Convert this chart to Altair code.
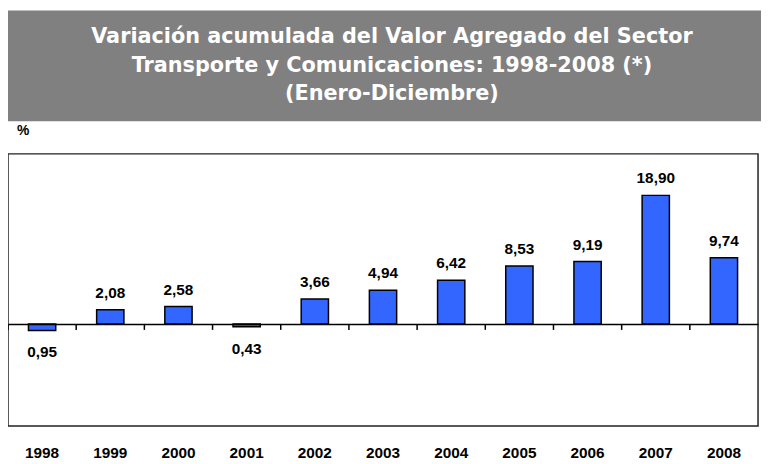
import altair as alt
import pandas as pd

years = ['1998', '1999', '2000', '2001', '2002', '2003', '2004', '2005', '2006', '2007', '2008']
values = [-0.95, 2.08, 2.58, -0.43, 3.66, 4.94, 6.42, 8.53, 9.19, 18.90, 9.74]
title_lines = ["Variación acumulada del Valor Agregado del Sector",
               "Transporte y Comunicaciones: 1998-2008 (*)",
               "(Enero-Diciembre)"]
unit_label = "%"

df = pd.DataFrame({"year": years, "value": values})
df["label"] = [f"{abs(v):.2f}".replace(".", ",") for v in values]

W, H = 758, 275
YMIN, YMAX = -15, 25
PAD_IN, PAD_OUT = 0.6, 0.3
zero_off = H * (0 - YMIN) / (YMAX - YMIN)  # distance of zero line from bottom
zero_px = H - zero_off                      # zero line from top
step = W / (len(years) - PAD_IN + 2 * PAD_OUT)
TICK_PX = 6

FONT = "Liberation Sans, Arial, sans-serif"

xscale = alt.Scale(paddingInner=PAD_IN, paddingOuter=PAD_OUT)
yscale = alt.Scale(domain=[YMIN, YMAX], nice=False, zero=False)

base = alt.Chart(df)

zero_axis = base.mark_bar(opacity=0).encode(
    x=alt.X("year:N", sort=years, scale=xscale,
            axis=alt.Axis(orient="bottom", offset=-zero_off,
                          labels=False, title=None, ticks=False,
                          domain=True, domainColor="black", domainWidth=1.5, grid=False,
                          zindex=1)),
    y=alt.Y("value:Q", scale=yscale, axis=None),
)

# category boundary ticks hanging below the zero line
ticks = base.mark_rule(color="black", strokeWidth=1.5, xOffset=-step / 2).encode(
    x=alt.X("year:N", sort=years, scale=xscale, axis=None),
    y=alt.value(zero_px),
    y2=alt.value(zero_px + TICK_PX),
)

bars = base.mark_bar(color="#3366FF", stroke="black", strokeWidth=1.5).encode(
    x=alt.X("year:N", sort=years, scale=xscale,
            axis=alt.Axis(orient="bottom", labels=True, ticks=False, domain=False,
                          title=None, labelPadding=20, labelFont=FONT,
                          labelFontSize=15.5, labelFontWeight="bold",
                          labelColor="black", labelAngle=0)),
    y=alt.Y("value:Q", scale=yscale, axis=None),
    y2=alt.datum(0),
)

pos_labels = base.transform_filter("datum.value >= 0").mark_text(
    dy=-17, font=FONT, fontSize=15.5, fontWeight="bold", color="black"
).encode(x=alt.X("year:N", sort=years, scale=xscale, axis=None),
         y=alt.Y("value:Q", scale=yscale, axis=None), text="label:N")

neg_labels = base.transform_filter("datum.value < 0").mark_text(
    dy=22, font=FONT, fontSize=15.5, fontWeight="bold", color="black"
).encode(x=alt.X("year:N", sort=years, scale=xscale, axis=None),
         y=alt.Y("value:Q", scale=yscale, axis=None), text="label:N")

one = alt.Chart(pd.DataFrame({"k": [0]}))
title_box = one.mark_rect(color="#808080", clip=False).encode(
    x=alt.value(-8), x2=alt.value(770), y=alt.value(-145), y2=alt.value(-33)
)
title_text = one.mark_text(
    font="DejaVu Sans", fontSize=21, fontWeight="bold", color="white",
    baseline="middle", align="center", lineHeight=29
).encode(x=alt.value(388), y=alt.value(-118), text=alt.value(title_lines))

pct = one.mark_text(font=FONT, fontSize=14, fontWeight="bold", color="black",
                    align="left", baseline="middle").encode(
    x=alt.value(9), y=alt.value(-23), text=alt.value(unit_label))

chart = alt.layer(title_box, title_text, pct, zero_axis, ticks, bars, pos_labels, neg_labels).resolve_axis(
    x="independent"
).properties(
    width=W, height=H,
    autosize=alt.AutoSizeParams(type="none"),
    padding={"left": 0, "top": 145, "right": 3, "bottom": 36},
).configure_view(stroke="#222222", strokeWidth=1.5)

chart.save("out.html", embed_options={"renderer": "svg", "actions": False})
